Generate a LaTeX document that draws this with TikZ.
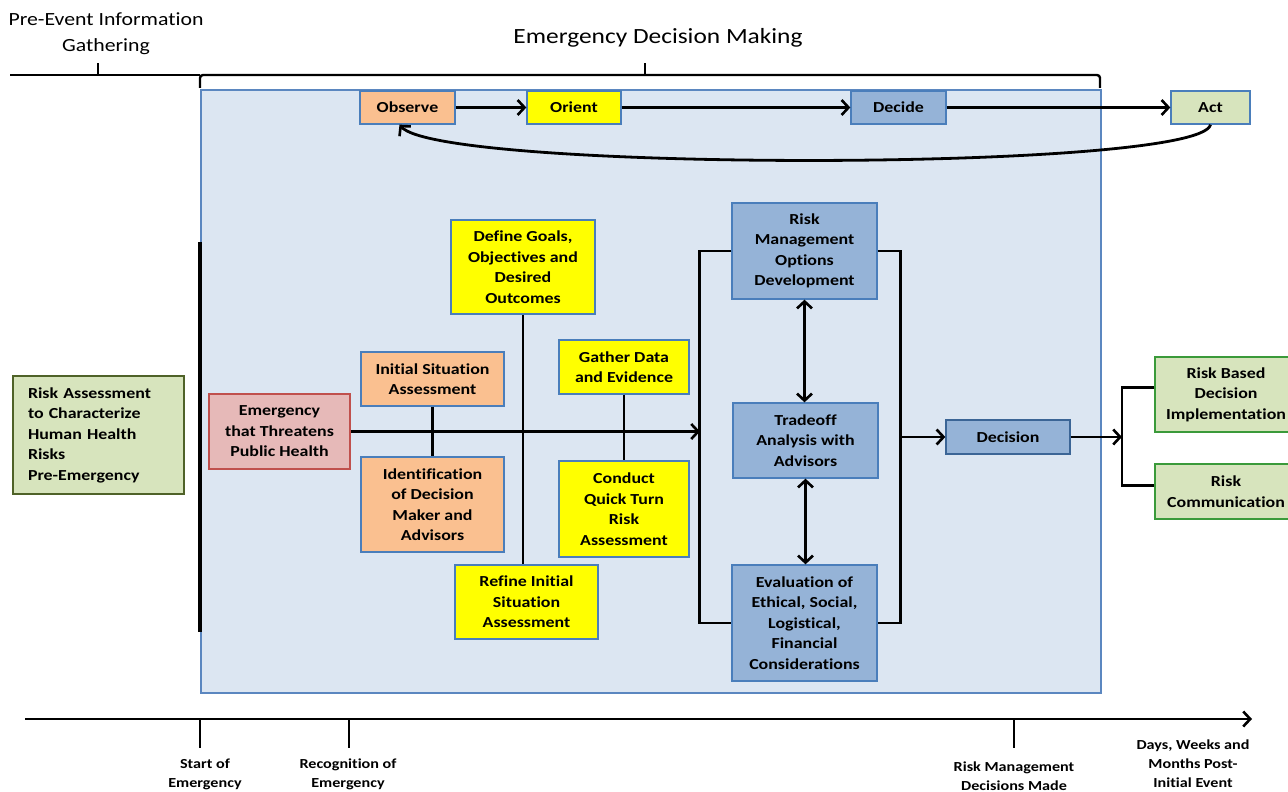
\documentclass[tikz,border=0pt]{standalone}
\usepackage{fontspec}
\setmainfont{Carlito}[FakeStretch=1.17, Ligatures=NoCommon]
\usetikzlibrary{arrows.meta,calc}
\definecolor{bgblue}{HTML}{DCE6F2}
\definecolor{frblue}{HTML}{5B87C0}
\definecolor{bxborder}{HTML}{4A7EBB}
\definecolor{orangefill}{HTML}{FAC090}
\definecolor{yellowfill}{HTML}{FFFF00}
\definecolor{midblue}{HTML}{95B3D7}
\definecolor{greenfill}{HTML}{D7E4BD}
\definecolor{redfill}{HTML}{E6B9B8}
\definecolor{redborder}{HTML}{C0504D}
\definecolor{oliveborder}{HTML}{4F6228}
\definecolor{greenborder}{HTML}{3A9A3A}
\tikzset{
  bx/.style={draw=bxborder, line width=1.3pt, rectangle, align=center, inner sep=2pt,
    font=\bfseries\fontsize{15.3}{20.5}\selectfont},
  orangebox/.style={bx, fill=orangefill},
  yellowbox/.style={bx, fill=yellowfill},
  bluebox/.style={bx, fill=midblue},
  greenbox/.style={bx, fill=greenfill},
  conn/.style={line width=2.8pt, black},
  arr/.style={conn, -{Straight Barb[length=7pt,width=15pt,line width=2.6pt]}},
  darr/.style={conn, {Straight Barb[length=7pt,width=15pt,line width=2.6pt]}-{Straight Barb[length=7pt,width=15pt,line width=2.6pt]}},
  lbl/.style={font=\bfseries\fontsize{13.8}{19}\selectfont, align=center},
}
\begin{document}
\begin{tikzpicture}[x=1pt,y=-1pt]
\useasboundingbox (0,0) rectangle (1288,792);
\fill[white] (0,0) rectangle (1288,792);
% big background panel
\draw[fill=bgblue, draw=frblue, line width=1.2pt] (201,90) rectangle (1101,693);

% top labels and bracket
\node[font=\fontsize{18.6}{26}\selectfont, align=center] (pre) at (106,34) {Pre-Event Information\\Gathering};
\node[font=\fontsize{21.7}{26}\selectfont] (edm) at (658,38) {Emergency Decision Making};
\draw[line width=2.4pt] (10,75) -- (200,75);
\draw[line width=2.4pt] (98,75) -- (98,63);
\draw[line width=2.4pt, rounded corners=3pt] (200,88) -- (200,75) -- (1100,75) -- (1100,88);
\draw[line width=2.4pt] (645,75) -- (645,63);

% OODA row
\node[orangebox, minimum width=95, minimum height=33] (obs) at (407.5,107.5) {Observe};
\node[yellowbox, minimum width=94, minimum height=33] (ori) at (574,107.5) {Orient};
\node[bluebox, minimum width=95, minimum height=33] (dec) at (898.5,107.5) {Decide};
\node[greenbox, minimum width=79, minimum height=33] (act) at (1210.5,107.5) {Act};
\draw[arr] (obs) -- (ori);
\draw[arr] (ori) -- (dec);
\draw[arr] (dec) -- (act);
\draw[arr] (act.south) .. controls (1200,172) and (440,172) .. ([xshift=-8pt]obs.south);

% left side
\node[greenbox, draw=oliveborder, line width=2.4pt, minimum width=171, minimum height=118,
  text width=141, align=left, inner xsep=15pt] (ra) at (98.5,435)
  {Risk Assessment\\to Characterize\\Human Health\\Risks\\Pre-Emergency};
\draw[line width=3.6pt] (200,242) -- (200,632);
\node[bx, fill=redfill, draw=redborder, line width=2.4pt, minimum width=141, minimum height=75] (emg) at (279.5,431.5) {Emergency\\that Threatens\\Public Health};

% fishbone boxes
\node[orangebox, minimum width=143, minimum height=54] (isa) at (432.5,379) {Initial Situation\\Assessment};
\node[orangebox, minimum width=143, minimum height=95] (idm) at (432.5,504.5) {Identification\\of Decision\\Maker and\\Advisors};
\node[yellowbox, minimum width=144, minimum height=94] (dg) at (523,267) {Define Goals,\\Objectives and\\Desired\\Outcomes};
\node[yellowbox, minimum width=143, minimum height=74] (rf) at (526.5,602) {Refine Initial\\Situation\\Assessment};
\node[yellowbox, minimum width=130, minimum height=54] (gd) at (624,367) {Gather Data\\and Evidence};
\node[yellowbox, minimum width=130, minimum height=96] (cq) at (624,509) {Conduct\\Quick Turn\\Risk\\Assessment};

\coordinate (jl) at (700,431.5);
\draw[arr] (emg.east) -- (jl);
\draw[conn] (isa.south) -- (idm.north);
\draw[conn] (dg.south) -- (dg.south |- rf.north);
\draw[conn] (gd.south) -- (cq.north);

% right cluster
\node[bluebox, minimum width=145, minimum height=96] (rmod) at (804.5,251) {Risk\\Management\\Options\\Development};
\node[bluebox, minimum width=145, minimum height=75] (tr) at (805.5,440.5) {Tradeoff\\Analysis with\\Advisors};
\node[bluebox, minimum width=145, minimum height=116] (ev) at (804.5,623) {Evaluation of\\Ethical, Social,\\Logistical,\\Financial\\Considerations};
\draw[conn] (rmod.west) -- ++(-32,0) |- (ev.west);
\draw[conn] (rmod.east) -- ++(23,0) |- (ev.east);
\draw[darr] (rmod.south) -- (rmod.south |- tr.north);
\draw[darr] (tr.south) -- (tr.south |- ev.north);

\node[bluebox, draw=bxborder!80!black, minimum width=124, minimum height=34] (dcs) at (1008,437) {Decision};
\coordinate (jr) at (900,437);
\draw[arr] (jr) -- (dcs.west);
\coordinate (fk) at (1122,437);
\draw[arr] (dcs.east) -- (fk);

\node[greenbox, draw=greenborder, minimum width=142, minimum height=75] (rb) at (1226,394.5) {Risk Based\\Decision\\Implementation};
\node[greenbox, draw=greenborder, minimum width=142, minimum height=55] (rc) at (1226,491.5) {Risk\\Communication};
\draw[conn] ([yshift=7pt]rb.west) -| (fk) |- ([yshift=6pt]rc.west);

% timeline
\coordinate (t0) at (25,719);
\coordinate (t1) at (1252,719);
\draw[line width=2.8pt, -{Straight Barb[length=7pt,width=15pt,line width=2.6pt]}] (t0) -- (t1);
\draw[line width=2.4pt] (200,719) -- (200,748);
\draw[line width=2.4pt] (349,719) -- (349,748);
\draw[line width=2.4pt] (1014,719) -- (1014,748);
\node[lbl] (se) at (205,774) {Start of\\Emergency};
\node[lbl] (re) at (348,774) {Recognition of\\Emergency};
\node[lbl] (rm) at (1014,776) {Risk Management\\Decisions Made};
\node[lbl] (dw) at (1193,764) {Days, Weeks and\\Months Post-\\Initial Event};
\end{tikzpicture}
\end{document}
